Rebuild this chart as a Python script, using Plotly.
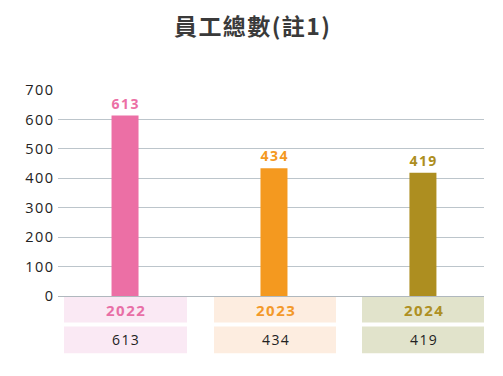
import plotly.graph_objects as go

years = ["2022", "2023", "2024"]
employees = [613, 434, 419]
bar_colors = ["#EC6FA5", "#F4991F", "#AD8E20"]
cell_colors = ["#FAE9F4", "#FDEDE0", "#E1E3CB"]
year_text_colors = ["#E86FA6", "#F3992A", "#AE9023"]
title = "員工總數(註1)"
yticks = [0, 100, 200, 300, 400, 500, 600, 700]

SP = "\u200a"  # hair space for letter spacing

def spaced(s):
    return SP.join(str(s))

OFF = 8  # default page body margin
W, H = 503, 376
PL, PR, PT, PB = 58, 484, 90, 296.5
ml, mt = PL - OFF, PT - OFF
mr = W - (PR - OFF)
mb = H - (PB - OFF)
ymax = 700
xr = [-0.45, 2.41]
ph = PB - PT
pw = PR - PL

def ppy(pix):
    return (PB - pix) / ph

def ppx(pix):
    return (pix - PL) / pw

def pxw(pix):
    return pix * (xr[1] - xr[0]) / pw

fig = go.Figure()
fig.add_trace(go.Bar(
    x=list(range(len(years))), y=employees,
    marker=dict(color=bar_colors, line=dict(width=0)),
    width=pxw(27),
    text=[spaced(v) for v in employees],
    textposition="outside",
    textfont=dict(family="Open Sans", size=14, color=bar_colors, weight="bold"),
    cliponaxis=False,
    hoverinfo="skip",
))

shapes = []
annotations = []
cols = [(64, 187), (214, 336), (362, 484)]
for i, y in enumerate(years):
    x0, x1 = cols[i]
    shapes.append(dict(type="rect", xref="paper", yref="paper", x0=ppx(x0), x1=ppx(x1),
                       y0=ppy(323), y1=ppy(297.5), fillcolor=cell_colors[i], line=dict(width=0)))
    shapes.append(dict(type="rect", xref="paper", yref="paper", x0=ppx(x0), x1=ppx(x1),
                       y0=ppy(354), y1=ppy(327), fillcolor=cell_colors[i], line=dict(width=0)))
    annotations.append(dict(x=ppx((x0 + x1) / 2), y=ppy(310.5), xref="paper", yref="paper",
                            xanchor="center", yanchor="middle",
                            text=SP.join(y), showarrow=False,
                            font=dict(family="Open Sans", size=15, color=year_text_colors[i], weight="bold")))
    annotations.append(dict(x=ppx((x0 + x1) / 2), y=ppy(340.5), xref="paper", yref="paper",
                            xanchor="center", yanchor="middle", text=spaced(employees[i]),
                            showarrow=False, font=dict(family="Open Sans", size=14, color="#222")))

fig.update_layout(
    width=W, height=H,
    margin=dict(l=ml, r=mr, t=mt, b=mb),
    paper_bgcolor="white", plot_bgcolor="white",
    title=dict(text="<b>" + SP.join(title) + "</b>", x=(252 - OFF) / W, xanchor="center",
               y=1 - (27 - OFF) / H, yanchor="middle",
               font=dict(family="Noto Sans CJK TC", size=23, color="#3A3A3A")),
    showlegend=False,
    xaxis=dict(range=xr, showticklabels=False, showgrid=False, zeroline=False, fixedrange=True,
               showline=True, linecolor="#B0B8BE", linewidth=1, automargin=False),
    yaxis=dict(range=[0, ymax], tickvals=yticks, ticktext=[spaced(t) for t in yticks],
               showgrid=True, gridcolor="#BCC5CB", gridwidth=1,
               zeroline=False, showline=False, ticks="", ticklabelstandoff=4, automargin=False,
               tickfont=dict(family="Open Sans", size=14.5, color="#222")),
    shapes=shapes,
    annotations=annotations,
)
fig.write_html("out.html")
